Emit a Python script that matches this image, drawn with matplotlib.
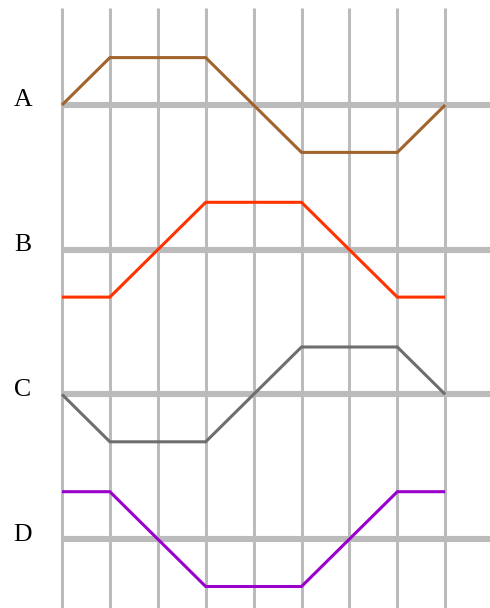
import matplotlib
matplotlib.use("Agg")
import matplotlib.pyplot as plt
from matplotlib import font_manager
import numpy as np

# phase waveforms, one value per grid step
labels = ["A", "B", "C", "D"]
steps = list(range(9))
wave_a = [0, 1, 1, 1, 0, -1, -1, -1, 0]
wave_b = [-1, -1, 0, 1, 1, 1, 0, -1, -1]
wave_c = [0, -1, -1, -1, 0, 1, 1, 1, 0]
wave_d = [1, 1, 0, -1, -1, -1, 0, 1, 1]
waves = [wave_a, wave_b, wave_c, wave_d]
colors = ["#A0642C", "#FF3300", "#6E6E6E", "#9900CC"]

grid_col = "#BBBBBB"

fig = plt.figure(figsize=(4.9, 6.08), dpi=100)
ax = fig.add_axes([0, 0, 1, 1])
px_x = 47.9  # pixels per step
px_y = 47.4  # pixels per unit
spacing = 144.7 / px_y  # distance between channel baselines
ax.set_xlim(-62 / px_x, (490 - 62) / px_x)
ax.set_ylim(-(608 - 105) / px_y, 105 / px_y)
ax.axis("off")

serif = font_manager.FontProperties(
    fname=font_manager.findfont(font_manager.FontProperties(family="Liberation Serif")),
    size=18.5)

# vertical grid
for s in steps:
    ax.plot([s, s], [-20, (105 - 8) / px_y], color=grid_col, lw=2.2, zorder=1,
            solid_capstyle="butt")

for i, (lab, w, c) in enumerate(zip(labels, waves, colors)):
    base = -i * spacing
    ax.plot([0, 20], [base, base], color=grid_col, lw=4.4, zorder=1,
            solid_capstyle="butt")
    ax.plot(steps, np.array(w) + base, color=c, lw=2.2, zorder=3,
            solid_capstyle="butt", solid_joinstyle="miter")
    ax.text(-39 / px_x, base - 1.5 / px_y, lab, ha="center", va="baseline",
            fontproperties=serif, color="black")

fig.savefig("out.png", dpi=100)
